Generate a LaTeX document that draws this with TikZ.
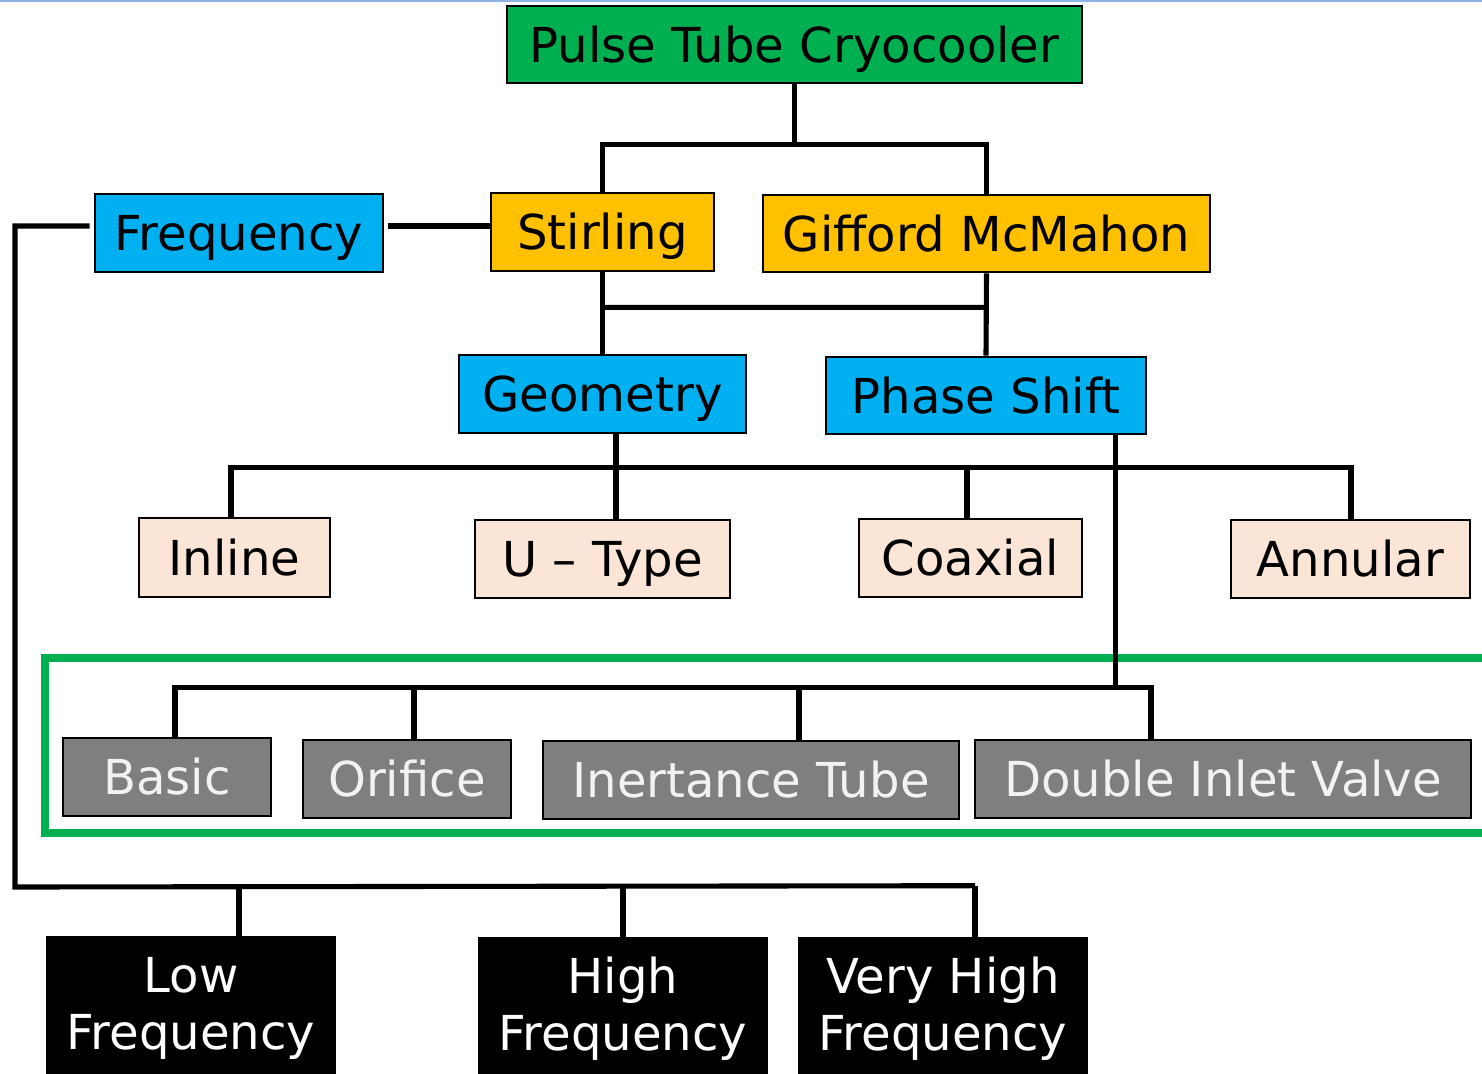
\documentclass[tikz,border=0pt]{standalone}
\usepackage{fontspec}
\setmainfont{DejaVu Sans}
\usetikzlibrary{calc}
\definecolor{cgreen}{HTML}{00B050}
\definecolor{corange}{HTML}{FFC000}
\definecolor{cblue}{HTML}{00B0F0}
\definecolor{cpeach}{HTML}{FBE5D6}
\definecolor{cgray}{HTML}{7F7F7F}
\definecolor{ctop}{HTML}{8EB4E3}
\begin{document}
\begin{tikzpicture}[x=0.02cm,y=-0.02cm,
  box/.style={draw=black,line width=1.5pt,inner sep=0pt,text height=20pt,text depth=0pt,
    font=\fontsize{27.4}{33}\selectfont},
  sz/.style 2 args={minimum width={#1*0.02cm},minimum height={#2*0.02cm}},
  conn/.style={draw=black,line width=2.9pt},
  graybox/.style={box,fill=cgray,text=white!95!black},
  blackbox/.style={box,fill=black},
  wtext/.style={text=white,align=center,inner sep=0pt,font=\fontsize{27.4}{32.5}\selectfont}]
\useasboundingbox (0,0) rectangle (1482,1073);
\clip (0,0) rectangle (1482,1073);
\fill[white] (0,0) rectangle (1482,1073);
\draw[ctop,line width=1.2pt] (0,1) -- (1482,1);
% green frame
\draw[cgreen,line width=4.5pt] (45,658) rectangle (1495,833);
% nodes
\node[box,fill=cgreen,sz={575}{77}] (ptc) at (794.5,44.5) {Pulse Tube Cryocooler};
\node[box,fill=corange,sz={223}{78}] (stir) at (602.5,232) {Stirling};
\node[box,fill=corange,sz={447}{77}] (gm) at (986.5,233.5) {Gifford McMahon};
\node[box,fill=cblue,sz={288}{78}] (freq) at (239,233) {Frequency};
\node[box,fill=cblue,sz={287}{78}] (geo) at (602.5,394) {Geometry};
\node[box,fill=cblue,sz={320}{77}] (ps) at (986,395.5) {Phase Shift};
\node[box,fill=cpeach,sz={191}{79}] (inl) at (234.5,557.5) {Inline};
\node[box,fill=cpeach,sz={255}{78}] (ut) at (602.5,559) {U – Type};
\node[box,fill=cpeach,sz={223}{78}] (coax) at (970.5,558) {Coaxial};
\node[box,fill=cpeach,sz={239}{78}] (ann) at (1350.5,559) {Annular};
\node[graybox,sz={208}{78}] (bas) at (167,777) {Basic};
\node[graybox,sz={208}{78}] (ori) at (407,779) {Orifice};
\node[graybox,sz={416}{78}] (it) at (751,780) {Inertance Tube};
\node[graybox,sz={496}{78}] (div) at (1223,779) {Double Inlet Valve};
\node[blackbox,sz={288}{152}] (lowb) at (191,1013) {};
\node[blackbox,sz={288}{152}] (highb) at (623,1014) {};
\node[blackbox,sz={288}{152}] (vhb) at (943,1014) {};
\node[wtext] (lowt) at (191,1008) {Low\\Frequency};
\node[wtext] (hight) at (623,1009) {High\\Frequency};
\node[wtext] (vht) at (943,1009) {Very High\\Frequency};
% connectors
\draw[conn] (ptc.south) -- ++(0,60) coordinate (j1);
\draw[conn] (j1) -| (stir.north);
\draw[conn] (j1) -| (gm.north);
\draw[conn] ($(freq.east)+(4,-7)$) coordinate (fa) -- (fa -| stir.west);
\coordinate (fbus) at (15,887);
\draw[conn] ($(freq.west)+(-4,-7)$) -| (fbus) -- ($(vhb.north)+(32,-51)$);
\draw[conn] ($(lowb.north)+(48,0)$) -- +(0,-51);
\draw[conn] (highb.north) -- +(0,-51);
\draw[conn] ($(vhb.north)+(32,0)$) -- +(0,-51);
\draw[conn] (stir.south) -- (geo.north);
\draw[conn] (gm.south) -- (ps.north);
\draw[conn] ($(stir.south)+(0,35)$) -- ($(gm.south)+(0,34)$);
\draw[conn] ($(geo.south)+(13.5,0)$) -- ($(ut.north)+(13.5,0)$);
\draw[conn] ($(inl.north)+(-3.5,0)$) -- +(0,-49) -- ($(ann.north)+(0.5,-51)$) -- ($(ann.north)+(0.5,0)$);
\draw[conn] ($(coax.north)+(-3.5,0)$) -- +(0,-50);
\draw[conn] ($(ps.south east)+(-32,0)$) -- +(0,255);
\draw[conn] ($(bas.north)+(8,0)$) -- +(0,-49) -- ($(div.north)+(-72,-51)$) -- ($(div.north)+(-72,0)$);
\draw[conn] ($(ori.north)+(7,0)$) -- +(0,-51);
\draw[conn] ($(it.north)+(48,0)$) -- +(0,-52);
\end{tikzpicture}
\end{document}
